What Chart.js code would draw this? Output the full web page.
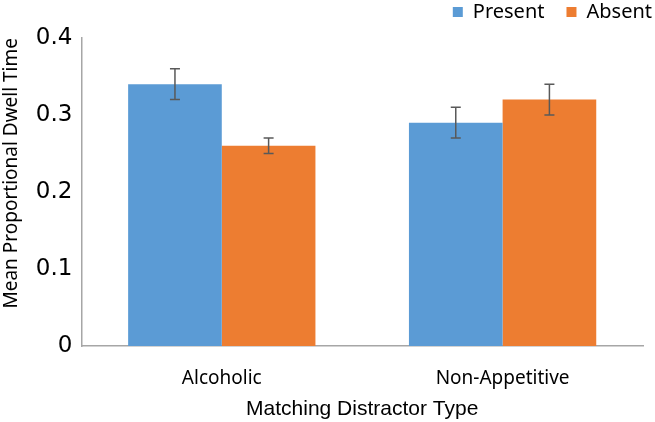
<!DOCTYPE html>
<html>
<head>
<meta charset="utf-8">
<script src="https://cdn.jsdelivr.net/npm/chart.js@4"></script>
<style>
  body { margin: 0; background: #fff; }
  #wrap { width: 655px; height: 422px; }
</style>
</head>
<body>
<div id="wrap"><canvas id="chart"></canvas></div>
<script>
var categories = ['Alcoholic', 'Non-Appetitive'];
var presentValues = [0.34, 0.29];
var absentValues = [0.26, 0.32];
var presentErr = [0.02, 0.02];
var absentErr = [0.01, 0.02];
var yTicks = [0, 0.1, 0.2, 0.3, 0.4];

var sansFam = '"Noto Sans", "Open Sans", sans-serif';
var tickFam = '"DejaVu Sans", Verdana, sans-serif';
var arialFam = '"Liberation Sans", Arial, sans-serif';

// draws the error bars using the y scale
var errorBars = {
    id: 'errorBars',
    afterDatasetsDraw: function (chart) {
        var ctx = chart.ctx;
        var y = chart.scales.y;
        chart.data.datasets.forEach(function (ds, i) {
            var meta = chart.getDatasetMeta(i);
            meta.data.forEach(function (bar, j) {
                var v = ds.data[j], e = ds.err[j];
                var top = y.getPixelForValue(v + e);
                var bot = y.getPixelForValue(v - e);
                ctx.save();
                ctx.strokeStyle = '#595959';
                ctx.lineWidth = 1.5;
                ctx.beginPath();
                ctx.moveTo(bar.x, top); ctx.lineTo(bar.x, bot);
                ctx.moveTo(bar.x - 5, top); ctx.lineTo(bar.x + 5, top);
                ctx.moveTo(bar.x - 5, bot); ctx.lineTo(bar.x + 5, bot);
                ctx.stroke();
                ctx.restore();
            });
        });
    }
};

// more room under the legend, and push it to the right edge
var legendTweak = {
    id: 'legendTweak',
    beforeLayout: function (chart) {
        var lg = chart.legend;
        if (!lg || lg._patched) return;
        var fit = lg.fit;
        lg.fit = function () {
            fit.call(this);
            this.height += 6;
        };
        lg._patched = true;
    },
    afterLayout: function (chart) {
        var lg = chart.legend;
        if (!lg) return;
        lg.left += 11;
        lg.right += 11;
    }
};

new Chart(document.getElementById('chart'), {
    type: 'bar',
    data: {
        labels: categories,
        datasets: [{
            label: 'Present',
            data: presentValues,
            err: presentErr,
            backgroundColor: '#5b9bd5'
        }, {
            label: 'Absent',
            data: absentValues,
            err: absentErr,
            backgroundColor: '#ed7d31'
        }]
    },
    options: {
        responsive: true,
        maintainAspectRatio: false,
        animation: false,
        layout: { padding: { left: 0, right: 12, top: 0, bottom: 0 } },
        datasets: {
            bar: { categoryPercentage: 0.667, barPercentage: 1 }
        },
        plugins: {
            legend: {
                position: 'top',
                align: 'end',
                labels: {
                    font: { family: sansFam, size: 20 },
                    color: '#000',
                    boxWidth: 10,
                    boxHeight: 10,
                    padding: 2,
                    generateLabels: function (chart) {
                        var items = Chart.defaults.plugins.legend.labels.generateLabels(chart);
                        // extra spacing between the two entries
                        items[0].text = items[0].text + '\u2003';
                        return items;
                    }
                }
            },
            tooltip: { enabled: false }
        },
        scales: {
            x: {
                grid: { display: false, drawTicks: false },
                border: { color: '#a6a6a6', width: 1.5 },
                ticks: { font: { family: sansFam, size: 19, lineHeight: 1 }, color: '#000', padding: 23 },
                title: {
                    display: true,
                    text: 'Matching Distractor Type',
                    font: { family: arialFam, size: 21, lineHeight: 1 },
                    color: '#000',
                    padding: { top: -12, bottom: 2 }
                }
            },
            y: {
                min: 0,
                max: 0.4,
                afterBuildTicks: function (axis) {
                    axis.ticks = yTicks.map(function (v) { return { value: v }; });
                },
                grid: { display: false, drawTicks: false },
                border: { color: '#a6a6a6', width: 1.5 },
                ticks: {
                    font: { family: tickFam, size: 23 },
                    color: '#000',
                    padding: 9,
                    callback: function (v) { return v === 0 ? '0' : v.toFixed(1); }
                },
                title: {
                    display: true,
                    text: 'Mean Proportional Dwell Time',
                    align: 'end',
                    font: { family: sansFam, size: 19 },
                    color: '#000',
                    padding: { top: 0, bottom: 4 }
                }
            }
        }
    },
    plugins: [errorBars, legendTweak]
});
</script>
</body>
</html>
